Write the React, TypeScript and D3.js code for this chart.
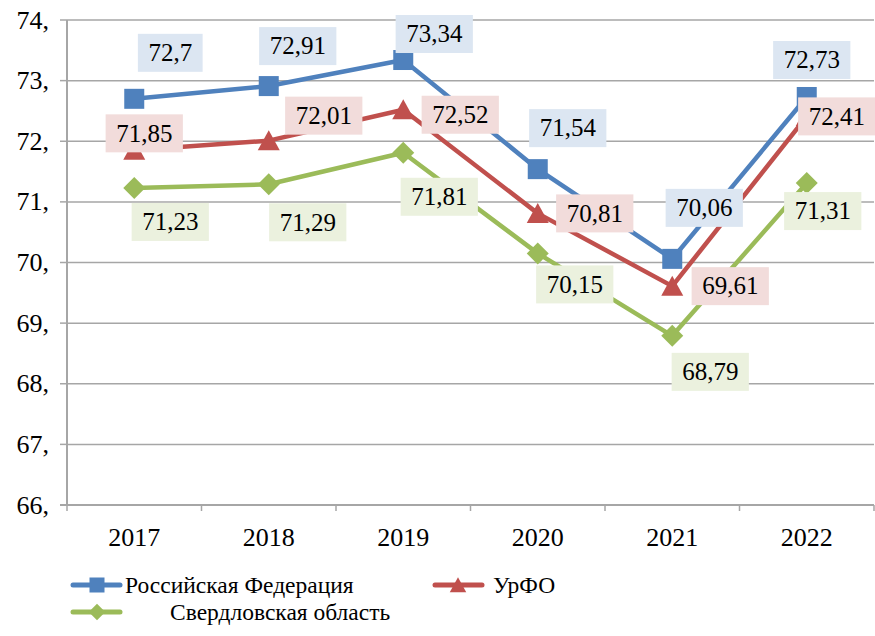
import React from "react";
import * as d3 from "d3";

const years = ["2017", "2018", "2019", "2020", "2021", "2022"];
const rfValues = [72.7, 72.91, 73.34, 71.54, 70.06, 72.73];
const urfoValues = [71.85, 72.01, 72.52, 70.81, 69.61, 72.41];
const sverdValues = [71.23, 71.29, 71.81, 70.15, 68.79, 71.31];
const yTicks = [66, 67, 68, 69, 70, 71, 72, 73, 74];
const seriesNames = ["Российская Федерация", "УрФО", "Свердловская область"];

// label offsets (px) relative to points
const rfLabelOffsets = [[36, -46], [29, -40], [31, -26], [30, -41], [32, -51], [5, -37]];
const urfoLabelOffsets = [[10, -17], [55, -25], [57, 5], [57, 0], [58, 0], [30, 0]];
const sverdLabelOffsets = [[36, 34], [39, 38], [36, 44], [37, 31], [38, 36], [16, 28]];

const W = 875;
const H = 636;
const left = 67;
const right = 874;
const top = 20;
const bottom = 505;
const FONT = "Liberation Serif, Times New Roman, serif";
const LABEL_FS = 25;

const fmt = (v: number) => String(v).replace(".", ",");
const textW = (s: string) => s.split("").reduce((a, c) => a + (c === "," ? 0.25 : 0.5) * LABEL_FS, 0);

type Series = {
  name: string;
  values: number[];
  color: string;
  bg: string;
  marker: "square" | "triangle" | "diamond";
  offsets: number[][];
};

const series: Series[] = [
  { name: seriesNames[0], values: rfValues, color: "#4F81BD", bg: "#DCE6F2", marker: "square", offsets: rfLabelOffsets },
  { name: seriesNames[1], values: urfoValues, color: "#C0504D", bg: "#F2DCDB", marker: "triangle", offsets: urfoLabelOffsets },
  { name: seriesNames[2], values: sverdValues, color: "#9BBB59", bg: "#EBF1DE", marker: "diamond", offsets: sverdLabelOffsets },
];

function Marker({ type, x, y, color, size }: { type: string; x: number; y: number; color: string; size: number }) {
  const h = size / 2;
  if (type === "square") return <rect x={x - h} y={y - h} width={size} height={size} fill={color} />;
  if (type === "triangle")
    return <path d={`M${x},${y - h * 1.05} L${x + h * 1.1},${y + h * 0.95} L${x - h * 1.1},${y + h * 0.95} Z`} fill={color} />;
  return <path d={`M${x},${y - h * 1.1} L${x + h * 1.1},${y} L${x},${y + h * 1.1} L${x - h * 1.1},${y} Z`} fill={color} />;
}

const axisTxt: React.CSSProperties = { fontFamily: FONT, fontSize: "26px" };
const labelTxt: React.CSSProperties = { fontFamily: FONT, fontSize: `${LABEL_FS}px` };
const legendTxt: React.CSSProperties = { fontFamily: FONT, fontSize: "23.5px" };

export default function App() {
  const x = d3.scaleBand<string>().domain(years).range([left, right]);
  const y = d3.scaleLinear().domain([66, 74]).range([bottom, top]);
  const cx = (yr: string) => (x(yr) as number) + x.bandwidth() / 2;
  const line = d3
    .line<number>()
    .x((_, i) => cx(years[i]))
    .y((v) => y(v));

  const boundaries = years.map((yr) => x(yr) as number).concat([right]);

  return (
    <svg width={W} height={H} style={{ position: "absolute", left: 0, top: 0, background: "#fff" }}>
      {/* gridlines */}
      {yTicks.map((t) => (
        <g key={t}>
          {t !== 66 && <line x1={left} x2={right} y1={y(t)} y2={y(t)} stroke="#A6A6A6" strokeWidth={1.5} />}
          <line x1={left - 7} x2={left} y1={y(t)} y2={y(t)} stroke="#A6A6A6" strokeWidth={1.5} />
          <text x={49} y={y(t)} dy="0.33em" textAnchor="end" style={axisTxt} fill="#000">
            {t},
          </text>
        </g>
      ))}
      {/* axes */}
      <line x1={left} x2={left} y1={top} y2={bottom} stroke="#A6A6A6" strokeWidth={2} />
      <line x1={left - 7} x2={right} y1={bottom} y2={bottom} stroke="#A6A6A6" strokeWidth={2} />
      {boundaries.map((b, i) => (
        <line key={i} x1={b} x2={b} y1={bottom} y2={bottom + 6} stroke="#A6A6A6" strokeWidth={1.5} />
      ))}
      {years.map((yr) => (
        <text key={yr} x={cx(yr)} y={546} textAnchor="middle" style={axisTxt} fill="#000">
          {yr}
        </text>
      ))}

      {/* lines */}
      {series.map((s) => (
        <path key={s.name} d={line(s.values) || ""} fill="none" stroke={s.color} strokeWidth={4.5} strokeLinejoin="round" />
      ))}
      {/* markers */}
      {series.map((s) =>
        s.values.map((v, i) => (
          <Marker key={s.name + i} type={s.marker} x={cx(years[i])} y={y(v)} color={s.color} size={20} />
        ))
      )}
      {/* labels */}
      {series.map((s) =>
        s.values.map((v, i) => {
          const label = fmt(v);
          const w = textW(label) + 21;
          const hgt = 38;
          const lx = cx(years[i]) + s.offsets[i][0];
          const ly = y(v) + s.offsets[i][1];
          return (
            <g key={"l" + s.name + i}>
              <rect x={lx - w / 2} y={ly - hgt / 2} width={w} height={hgt} fill={s.bg} />
              <text x={lx} y={ly} dy="0.33em" textAnchor="middle" style={labelTxt} fill="#000">
                {label}
              </text>
            </g>
          );
        })
      )}

      {/* legend */}
      <g>
        <line x1={73} x2={120} y1={585} y2={585} stroke={series[0].color} strokeWidth={5} strokeLinecap="round" />
        <Marker type="square" x={97} y={585} color={series[0].color} size={15} />
        <text x={125} y={585} dy="0.33em" style={legendTxt} fill="#000">{seriesNames[0]}</text>

        <line x1={435} x2={482} y1={585} y2={585} stroke={series[1].color} strokeWidth={5} strokeLinecap="round" />
        <Marker type="triangle" x={458} y={585} color={series[1].color} size={15} />
        <text x={493} y={585} dy="0.33em" style={legendTxt} fill="#000">{seriesNames[1]}</text>

        <line x1={73} x2={120} y1={612} y2={612} stroke={series[2].color} strokeWidth={5} strokeLinecap="round" />
        <Marker type="diamond" x={97} y={612} color={series[2].color} size={15} />
        <text x={170} y={612} dy="0.33em" style={legendTxt} fill="#000">{seriesNames[2]}</text>
      </g>
    </svg>
  );
}
